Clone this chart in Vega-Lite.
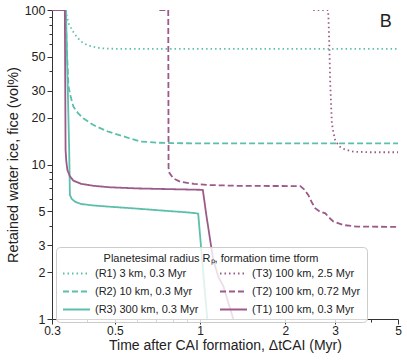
{
  "$schema": "https://vega.github.io/schema/vega-lite/v6.json",
  "width": 346,
  "height": 309,
  "autosize": "none",
  "padding": {"left": 52, "top": 10, "right": 9, "bottom": 42},
  "config": {
    "view": {"stroke": null},
    "font": "Liberation Sans",
    "axis": {"domainColor": "#333", "tickColor": "#333", "labelColor": "#222", "titleColor": "#222", "labelFontSize": 12.5, "titleFontSize": 14.5, "titleFontWeight": "normal", "grid": false, "labelFont": "Liberation Sans", "titleFont": "Liberation Sans"}
  },
  "layer": [
    {
      "data": {"values": [
        {"s":"R1","t":0.3,"v":100},{"s":"R1","t":0.334,"v":100},{"s":"R1","t":0.337,"v":95},{"s":"R1","t":0.343,"v":82},{"s":"R1","t":0.355,"v":73},{"s":"R1","t":0.367,"v":67},{"s":"R1","t":0.38,"v":62.5},{"s":"R1","t":0.398,"v":59.5},{"s":"R1","t":0.42,"v":57.8},{"s":"R1","t":0.44,"v":56.8},{"s":"R1","t":0.468,"v":56.2},{"s":"R1","t":0.55,"v":56},{"s":"R1","t":1,"v":56},{"s":"R1","t":5,"v":56},
        {"s":"R2","t":0.3,"v":100},{"s":"R2","t":0.335,"v":100},{"s":"R2","t":0.338,"v":60},{"s":"R2","t":0.343,"v":32},{"s":"R2","t":0.35,"v":27},{"s":"R2","t":0.357,"v":23.7},{"s":"R2","t":0.37,"v":21.6},{"s":"R2","t":0.387,"v":19.9},{"s":"R2","t":0.42,"v":18},{"s":"R2","t":0.474,"v":16.3},{"s":"R2","t":0.55,"v":15},{"s":"R2","t":0.614,"v":14.1},{"s":"R2","t":0.7,"v":13.85},{"s":"R2","t":0.8,"v":13.75},{"s":"R2","t":1,"v":13.7},{"s":"R2","t":5,"v":13.7},
        {"s":"R3","t":0.3,"v":100},{"s":"R3","t":0.336,"v":100},{"s":"R3","t":0.345,"v":12.4},{"s":"R3","t":0.347,"v":6.35},{"s":"R3","t":0.352,"v":6.0},{"s":"R3","t":0.362,"v":5.74},{"s":"R3","t":0.38,"v":5.55},{"s":"R3","t":0.42,"v":5.43},{"s":"R3","t":0.481,"v":5.33},{"s":"R3","t":0.6,"v":5.18},{"s":"R3","t":0.75,"v":5.02},{"s":"R3","t":0.9,"v":4.9},{"s":"R3","t":0.975,"v":4.83},{"s":"R3","t":0.985,"v":4.8},{"s":"R3","t":1.06,"v":1},{"s":"R3","t":1.07,"v":0.9},
        {"s":"T3","t":2.51,"v":100},{"s":"T3","t":2.83,"v":100},{"s":"T3","t":2.84,"v":90.5},{"s":"T3","t":2.86,"v":60},{"s":"T3","t":2.88,"v":35.2},{"s":"T3","t":2.9,"v":25},{"s":"T3","t":2.92,"v":18.5},{"s":"T3","t":2.96,"v":16},{"s":"T3","t":3.0,"v":14.4},{"s":"T3","t":3.06,"v":13.6},{"s":"T3","t":3.12,"v":13.0},{"s":"T3","t":3.25,"v":12.5},{"s":"T3","t":3.48,"v":12.1},{"s":"T3","t":4,"v":12.0},{"s":"T3","t":5,"v":12.0},
        {"s":"T2","t":0.718,"v":100},{"s":"T2","t":0.772,"v":100},{"s":"T2","t":0.774,"v":9.5},{"s":"T2","t":0.78,"v":8.8},{"s":"T2","t":0.804,"v":8.14},{"s":"T2","t":0.85,"v":7.74},{"s":"T2","t":0.95,"v":7.5},{"s":"T2","t":1.057,"v":7.37},{"s":"T2","t":1.386,"v":7.27},{"s":"T2","t":2.26,"v":7.25},{"s":"T2","t":2.33,"v":6.9},{"s":"T2","t":2.41,"v":6.35},{"s":"T2","t":2.48,"v":5.7},{"s":"T2","t":2.55,"v":5.21},{"s":"T2","t":2.65,"v":4.95},{"s":"T2","t":2.77,"v":4.83},{"s":"T2","t":2.85,"v":4.55},{"s":"T2","t":2.96,"v":4.27},{"s":"T2","t":3.2,"v":4.06},{"s":"T2","t":3.58,"v":3.96},{"s":"T2","t":5,"v":3.95},
        {"s":"T1","t":0.3,"v":100},{"s":"T1","t":0.333,"v":100},{"s":"T1","t":0.335,"v":12.4},{"s":"T1","t":0.337,"v":10.5},{"s":"T1","t":0.34,"v":9.2},{"s":"T1","t":0.347,"v":8.4},{"s":"T1","t":0.357,"v":7.86},{"s":"T1","t":0.38,"v":7.5},{"s":"T1","t":0.42,"v":7.28},{"s":"T1","t":0.481,"v":7.12},{"s":"T1","t":0.6,"v":7.0},{"s":"T1","t":0.8,"v":6.92},{"s":"T1","t":1.0,"v":6.86},{"s":"T1","t":1.023,"v":6.84},{"s":"T1","t":1.05,"v":4.83},{"s":"T1","t":1.113,"v":2.41},{"s":"T1","t":1.16,"v":1.88},{"s":"T1","t":1.21,"v":1.62},{"s":"T1","t":1.31,"v":1.0},{"s":"T1","t":1.33,"v":0.9}
      ]},
      "mark": {"type": "line", "strokeWidth": 1.8, "clip": true},
      "encoding": {
        "x": {"field": "t", "type": "quantitative",
          "scale": {"type": "log", "domain": [0.3, 5], "nice": false},
          "axis": {"title": "Time after CAI formation, ΔtCAI (Myr)", "values": [0.3,0.4,0.5,0.6,0.7,0.8,0.9,1,2,3,4,5],
            "labelExpr": "indexof([0.3,0.5,1,2,3,5], datum.value) >= 0 ? format(datum.value, '~g') : ''",
            "tickSize": {"expr": "indexof([0.3,0.5,1,2,3,5], datum.value) >= 0 ? 5 : 3"},
            "labelFontSize": 12, "titleFontSize": 14, "labelPadding": 1, "titlePadding": 2, "labelFlush": false}},
        "y": {"field": "v", "type": "quantitative",
          "scale": {"type": "log", "domain": [1, 100], "nice": false},
          "axis": {"title": "Retained water ice, fice (vol%)", "values": [1,2,3,4,5,6,7,8,9,10,20,30,40,50,60,70,80,90,100],
            "labelExpr": "indexof([1,2,3,5,10,20,30,50,100], datum.value) >= 0 ? format(datum.value, '~g') : ''",
            "tickSize": {"expr": "indexof([1,2,3,5,10,20,30,50,100], datum.value) >= 0 ? 5 : 3"},
            "labelPadding": 2, "titlePadding": 4, "labelFlush": false}},
        "color": {"field": "s", "type": "nominal",
          "scale": {"domain": ["R1","R2","R3","T3","T2","T1"], "range": ["#5cbfab","#5cbfab","#5cbfab","#9b5a8a","#9b5a8a","#9b5a8a"]},
          "legend": {"orient": "none", "legendX": 4, "legendY": 237, "columns": 2,
            "title": "Planetesimal radius Rₚ, formation time tform", "titleLimit": 400, "titleAnchor": "middle", "titleFontWeight": "normal", "titleFontSize": 11, "titleColor": "#222", "titleFont": "Liberation Sans", "titlePadding": 3,
            "labelFontSize": 11, "labelColor": "#222", "labelFont": "Liberation Sans", "labelOffset": 4, "labelLimit": 200,
            "labelExpr": "datum.label == 'R1' ? '(R1) 3 km, 0.3 Myr' : datum.label == 'R2' ? '(R2) 10 km, 0.3 Myr' : datum.label == 'R3' ? '(R3) 300 km, 0.3 Myr' : datum.label == 'T3' ? '(T3) 100 km, 2.5 Myr' : datum.label == 'T2' ? '(T2) 100 km, 0.72 Myr' : '(T1) 100 km, 0.3 Myr'",
            "symbolType": "stroke", "symbolSize": 729, "symbolStrokeWidth": 1.8, "clipHeight": 13,
            "fillColor": "rgba(255,255,255,0.8)", "strokeColor": "#cccccc", "cornerRadius": 4, "padding": 6, "rowPadding": 5, "columnPadding": 20}},
        "strokeDash": {"field": "s", "type": "nominal",
          "scale": {"domain": ["R1","R2","R3","T3","T2","T1"], "range": [[1.5,3],[6,3],[1,0],[1.5,3],[6,3],[1,0]]},
          "legend": {"orient": "none", "legendX": 4, "legendY": 237, "columns": 2,
            "title": "Planetesimal radius Rₚ, formation time tform", "titleLimit": 400, "titleAnchor": "middle", "titleFontWeight": "normal", "titleFontSize": 11, "titleColor": "#222", "titleFont": "Liberation Sans", "titlePadding": 3,
            "labelFontSize": 11, "labelColor": "#222", "labelFont": "Liberation Sans", "labelOffset": 4, "labelLimit": 200,
            "labelExpr": "datum.label == 'R1' ? '(R1) 3 km, 0.3 Myr' : datum.label == 'R2' ? '(R2) 10 km, 0.3 Myr' : datum.label == 'R3' ? '(R3) 300 km, 0.3 Myr' : datum.label == 'T3' ? '(T3) 100 km, 2.5 Myr' : datum.label == 'T2' ? '(T2) 100 km, 0.72 Myr' : '(T1) 100 km, 0.3 Myr'",
            "symbolType": "stroke", "symbolSize": 729, "symbolStrokeWidth": 1.8, "clipHeight": 13,
            "fillColor": "rgba(255,255,255,0.8)", "strokeColor": "#cccccc", "cornerRadius": 4, "padding": 6, "rowPadding": 5, "columnPadding": 20}}
      }
    },
    {
      "data": {"values": [{"t": 4.53, "v": 83.6, "label": "B"}]},
      "mark": {"type": "text", "fontSize": 18, "font": "Liberation Sans", "color": "#222"},
      "encoding": {
        "x": {"field": "t", "type": "quantitative"},
        "y": {"field": "v", "type": "quantitative"},
        "text": {"field": "label"}
      }
    }
  ]
}
